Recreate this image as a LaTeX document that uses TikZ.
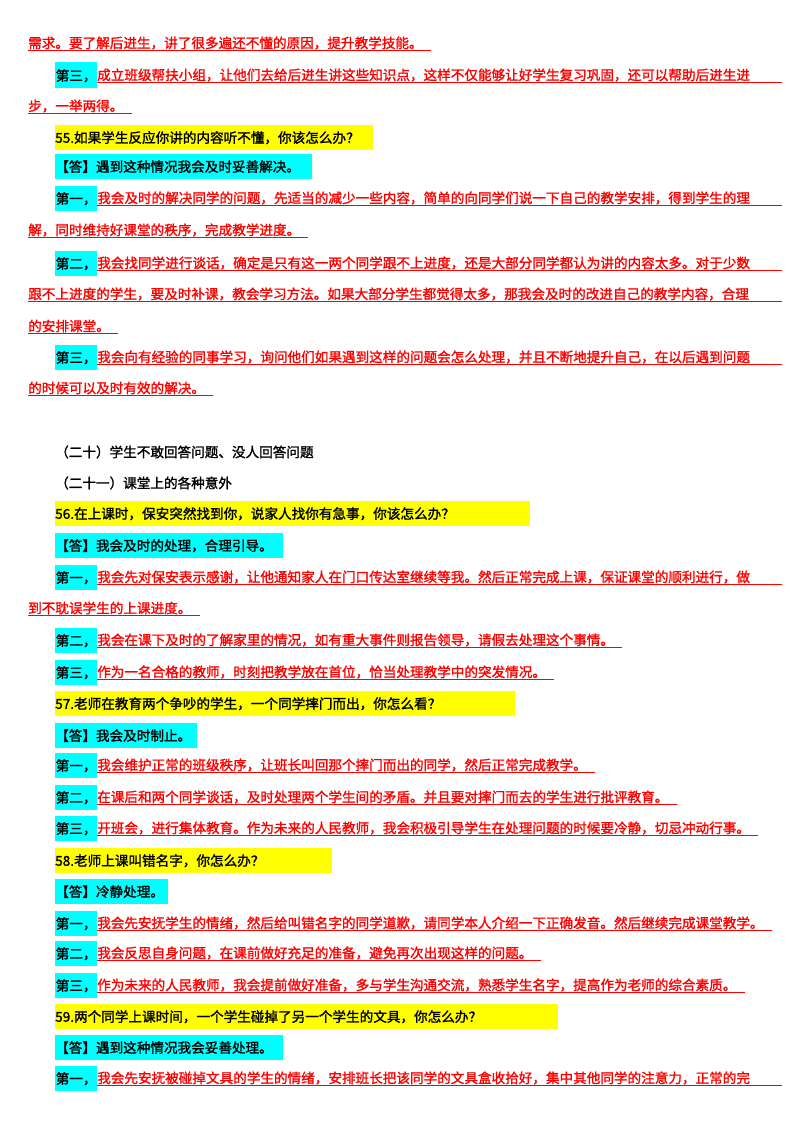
\documentclass[tikz,border=0pt]{standalone}
\usepackage{fontspec}
\setmainfont{Noto Sans CJK SC}[FakeBold=1.5]
\XeTeXlinebreaklocale "zh"
\XeTeXlinebreakskip=0pt plus 3pt
\definecolor{hlcyan}{HTML}{00FFFF}
\definecolor{hlyellow}{HTML}{FFFF00}
\definecolor{txtred}{HTML}{FF0000}
\tikzset{
  base/.style={inner sep=0pt,anchor=west,font=\fontsize{13.6}{14}\selectfont},
  redtxt/.style={base,text=txtred},
  ul/.style={draw=txtred,line width=0.9pt},
  cy/.style={base,fill=hlcyan,minimum height=25pt,text depth=0pt},
  ye/.style={base,fill=hlyellow,minimum height=25pt,text depth=0pt},
  plain/.style={base}
}
% red natural line
\newcommand\rl[4]{\node[redtxt] (#1) at (#2pt,-#3pt) {#4};
  \draw[ul] ([yshift=-2.5pt]#1.base west) -- ([yshift=-2.5pt,xshift=8pt]#1.base east);}
% red justified line of given width
\newcommand\rlj[5]{\node[redtxt] (#1) at (#2pt,-#3pt) {\makebox[#4pt][s]{#5}};
  \draw[ul] ([yshift=-2.5pt]#1.base west) -- ([yshift=-2.5pt]#1.base east);}
\newcommand\lab[3]{\node[cy,minimum width=42pt] (#1) at (55pt,-#2pt) {#3};}
\newcommand\qbox[4]{\node[ye,minimum width=#3pt] (#1) at (55pt,-#2pt) {\makebox[#3pt][l]{#4}};}
\newcommand\abox[4]{\node[cy,minimum width=#3pt] (#1) at (55pt,-#2pt) {\makebox[#3pt][l]{#4}};}
\begin{document}
\begin{tikzpicture}[x=1pt,y=1pt]
\useasboundingbox (0,0) rectangle (800,-1132);
\fill[white] (0,0) rectangle (800,-1132);
\rl{a1}{28}{43}{需求。要了解后进生，讲了很多遍还不懂的原因，提升教学技能。}
\lab{l1}{75}{第三，}
\rlj{a2}{97}{75}{685}{成立班级帮扶小组，让他们去给后进生讲这些知识点，这样不仅能够让好学生复习巩固，还可以帮助后进生进}
\rl{a3}{28}{106}{步，一举两得。}
\qbox{q55}{137}{318}{55.如果学生反应你讲的内容听不懂，你该怎么办？}
\abox{a55}{166}{257}{【答】遇到这种情况我会及时妥善解决。}
\lab{l2}{198}{第一，}
\rlj{b1}{97}{198}{685}{我会及时的解决同学的问题，先适当的减少一些内容，简单的向同学们说一下自己的教学安排，得到学生的理}
\rl{b2}{28}{230}{解，同时维持好课堂的秩序，完成教学进度。}
\lab{l3}{263}{第二，}
\rlj{b3}{97}{263}{685}{我会找同学进行谈话，确定是只有这一两个同学跟不上进度，还是大部分同学都认为讲的内容太多。对于少数}
\rlj{b4}{28}{294}{754}{跟不上进度的学生，要及时补课，教会学习方法。如果大部分学生都觉得太多，那我会及时的改进自己的教学内容，合理}
\rl{b5}{28}{326}{的安排课堂。}
\lab{l4}{357}{第三，}
\rlj{b6}{97}{357}{685}{我会向有经验的同事学习，询问他们如果遇到这样的问题会怎么处理，并且不断地提升自己，在以后遇到问题}
\rl{b7}{28}{388}{的时候可以及时有效的解决。}
\node[plain] (h20) at (55,-452) {（二十）学生不敢回答问题、没人回答问题};
\node[plain] (h21) at (55,-483) {（二十一）课堂上的各种意外};
\qbox{q56}{513}{475}{56.在上课时，保安突然找到你，说家人找你有急事，你该怎么办？}
\abox{a56}{545}{228}{【答】我会及时的处理，合理引导。}
\lab{l5}{577}{第一，}
\rlj{c1}{97}{577}{685}{我会先对保安表示感谢，让他通知家人在门口传达室继续等我。然后正常完成上课，保证课堂的顺利进行，做}
\rl{c2}{28}{608}{到不耽误学生的上课进度。}
\lab{l6}{640}{第二，}
\rl{c3}{97}{640}{我会在课下及时的了解家里的情况，如有重大事件则报告领导，请假去处理这个事情。}
\lab{l7}{672}{第三，}
\rl{c4}{97}{672}{作为一名合格的教师，时刻把教学放在首位，恰当处理教学中的突发情况。}
\qbox{q57}{703}{460}{57.老师在教育两个争吵的学生，一个同学摔门而出，你怎么看？}
\abox{a57}{735}{142}{【答】我会及时制止。}
\lab{l8}{765}{第一，}
\rl{d1}{97}{765}{我会维护正常的班级秩序，让班长叫回那个摔门而出的同学，然后正常完成教学。}
\lab{l9}{797}{第二，}
\rl{d2}{97}{797}{在课后和两个同学谈话，及时处理两个学生间的矛盾。并且要对摔门而去的学生进行批评教育。}
\lab{l10}{828}{第三，}
\rl{d3}{97}{828}{开班会，进行集体教育。作为未来的人民教师，我会积极引导学生在处理问题的时候要冷静，切忌冲动行事。}
\qbox{q58}{860}{277}{58.老师上课叫错名字，你怎么办？}
\abox{a58}{891}{113}{【答】冷静处理。}
\lab{l11}{923}{第一，}
\rl{e1}{97}{923}{我会先安抚学生的情绪，然后给叫错名字的同学道歉，请同学本人介绍一下正确发音。然后继续完成课堂教学。}
\lab{l12}{953}{第二，}
\rl{e2}{97}{953}{我会反思自身问题，在课前做好充足的准备，避免再次出现这样的问题。}
\lab{l13}{985}{第三，}
\rl{e3}{97}{985}{作为未来的人民教师，我会提前做好准备，多与学生沟通交流，熟悉学生名字，提高作为老师的综合素质。}
\qbox{q59}{1016}{503}{59.两个同学上课时间，一个学生碰掉了另一个学生的文具，你怎么办？}
\abox{a59}{1047}{228}{【答】遇到这种情况我会妥善处理。}
\lab{l14}{1078}{第一，}
\rlj{f1}{97}{1078}{685}{我会先安抚被碰掉文具的学生的情绪，安排班长把该同学的文具盒收拾好，集中其他同学的注意力，正常的完}
\end{tikzpicture}
\end{document}
